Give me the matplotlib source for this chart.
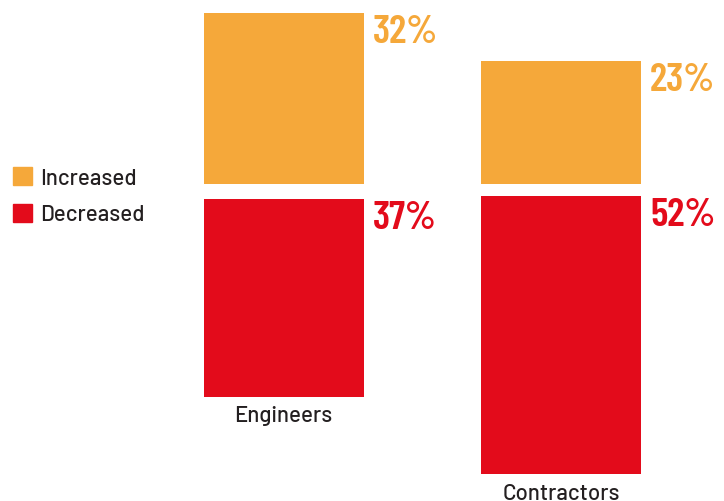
import matplotlib.pyplot as plt
from matplotlib.patches import Patch

groups = ["Engineers", "Contractors"]
increased = [32, 23]
decreased = [37, 52]

orange = "#F5A83A"
red = "#E30B1B"
dark = "#231F20"

fig = plt.figure(figsize=(7.24, 5.02), dpi=100)
ax = fig.add_axes([0, 0, 1, 1])
ax.set_xlim(0, 724)
ax.set_ylim(-59.36, 34.64)
ax.axis("off")

centers = [283.5, 561]
width = 160
gaps = [2.8, 2.25]  # space between the two stacked bars

for i, g in enumerate(groups):
    ax.bar(centers[i], increased[i], width=width, bottom=0, color=orange)
    ax.bar(centers[i], -decreased[i], width=width, bottom=-gaps[i], color=red)
    x_lab = centers[i] + width / 2 + 9
    ax.text(x_lab, increased[i] - 5.4, "%d%%" % increased[i], color=orange,
            fontsize=29, fontweight="semibold", family="Barlow Condensed",
            ha="left", va="baseline")
    ax.text(x_lab, -gaps[i] - 5.4, "%d%%" % decreased[i], color=red,
            fontsize=29, fontweight="semibold", family="Barlow Condensed",
            ha="left", va="baseline")
    ax.text(centers[i], -gaps[i] - decreased[i] - 4.65, g, color=dark,
            fontsize=16, fontweight="medium", family="Barlow",
            ha="center", va="baseline")

handles = [Patch(color=orange, label="Increased"), Patch(color=red, label="Decreased")]
fig.legend(handles=handles, loc="upper left", bbox_to_anchor=(13 / 724, 1 - 168 / 502),
           frameon=False, prop={"family": "Barlow", "size": 16, "weight": "medium"},
           handlelength=0.87, handleheight=0.87, handletextpad=0.36,
           labelspacing=0.72, labelcolor=dark, borderpad=0, borderaxespad=0)

fig.savefig("out.png", dpi=100)
